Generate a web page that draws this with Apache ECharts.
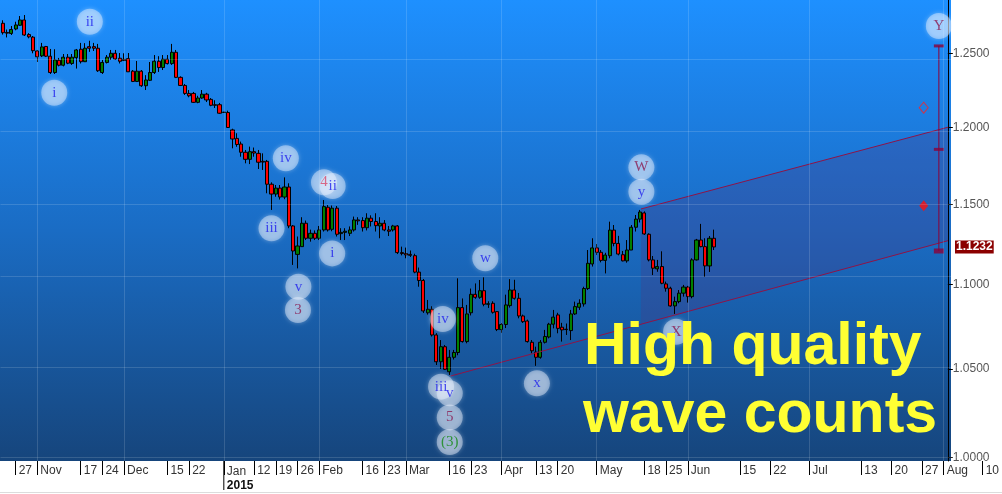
<!DOCTYPE html>
<html><head><meta charset="utf-8">
<script src="https://cdn.jsdelivr.net/npm/echarts@6/dist/echarts.min.js"></script>
<style>html,body{margin:0;padding:0;background:#fff;overflow:hidden}#c{width:1002px;height:494px}</style>
</head><body><div id="c"></div>
<script>
// ---------------- data (EUR/USD daily) ----------------
const opens = [1.2709,1.2645,1.2638,1.2669,1.2695,1.2732,1.2630,1.2612,1.2516,1.2482,
1.2547,1.2480,1.2368,1.2452,1.2418,1.2473,1.2430,1.2470,1.2528,1.2442,
1.2546,1.2546,1.2535,1.2368,1.2437,1.2473,1.2500,1.2466,1.2450,1.2463,
1.2377,1.2307,1.2377,1.2278,1.2315,1.2368,1.2445,1.2402,1.2459,1.2429,
1.2507,1.2335,1.2280,1.2226,1.2226,1.2166,1.2195,1.2221,1.2186,1.2150,
1.2150,1.2098,1.2098,1.1982,1.1926,1.1889,1.1835,1.1789,1.1839,1.1828,
1.1776,1.1776,1.1628,1.1565,1.1603,1.1546,1.1610,1.1363,1.1186,1.1234,
1.1380,1.1286,1.1317,1.1286,1.1338,1.1481,1.1342,1.1475,1.1315,1.1323,
1.1317,1.1338,1.1401,1.1397,1.1352,1.1412,1.1391,1.1363,1.1380,1.1338,
1.1338,1.1363,1.1197,1.1191,1.1186,1.1178,1.1077,1.1026,1.0831,1.0852,
1.0699,1.0542,1.0630,1.0484,1.0568,1.0596,1.0862,1.0660,1.0831,1.0942,
1.0924,1.0964,1.0882,1.0888,1.0838,1.0731,1.0761,1.0874,1.0968,1.0918,
1.0812,1.0782,1.0656,1.0598,1.0568,1.0656,1.0687,1.0763,1.0818,1.0745,
1.0733,1.0725,1.0824,1.0864,1.0884,1.0977,1.1127,1.1226,1.1199,1.1149,
1.1178,1.1337,1.1254,1.1184,1.1146,1.1213,1.1355,1.1406,1.1445,1.1311,
1.1152,1.1097,1.1111,1.1005,1.0979,1.0872,1.0898,1.0949,1.0986,1.0928,
1.1152,1.1275,1.1234,1.1115,1.1286];
const highs = [1.2730,1.2665,1.2690,1.2720,1.2760,1.2767,1.2640,1.2620,1.2523,1.2572,
1.2551,1.2530,1.2528,1.2468,1.2495,1.2495,1.2495,1.2530,1.2572,1.2570,
1.2587,1.2572,1.2565,1.2454,1.2488,1.2523,1.2523,1.2502,1.2500,1.2502,
1.2385,1.2447,1.2385,1.2350,1.2440,1.2488,1.2480,1.2488,1.2488,1.2565,
1.2523,1.2342,1.2290,1.2249,1.2236,1.2210,1.2249,1.2230,1.2195,1.2180,
1.2162,1.2102,1.2110,1.1990,1.1960,1.1905,1.1850,1.1872,1.1866,1.1850,
1.1828,1.1785,1.1640,1.1623,1.1623,1.1672,1.1634,1.1369,1.1297,1.1418,
1.1397,1.1340,1.1335,1.1363,1.1527,1.1495,1.1492,1.1489,1.1349,1.1349,
1.1360,1.1422,1.1418,1.1418,1.1443,1.1430,1.1443,1.1418,1.1400,1.1363,
1.1370,1.1369,1.1234,1.1228,1.1210,1.1190,1.1105,1.1035,1.0908,1.0870,
1.0710,1.0669,1.0640,1.0611,1.0611,1.1039,1.0917,1.0878,1.0977,1.1008,
1.1029,1.1045,1.0900,1.0900,1.0840,1.0770,1.0940,1.1034,1.1030,1.0950,
1.0820,1.0790,1.0669,1.0630,1.0669,1.0729,1.0771,1.0848,1.0831,1.0771,
1.0767,1.0848,1.0898,1.0912,1.0988,1.1213,1.1286,1.1250,1.1213,1.1196,
1.1390,1.1369,1.1301,1.1207,1.1275,1.1369,1.1432,1.1464,1.1455,1.1317,
1.1176,1.1152,1.1205,1.1019,1.0988,1.0928,1.0968,1.0999,1.0993,1.1162,
1.1282,1.1376,1.1286,1.1300,1.1340];
const lows = [1.2630,1.2610,1.2627,1.2660,1.2690,1.2620,1.2604,1.2500,1.2440,1.2474,
1.2474,1.2358,1.2358,1.2410,1.2410,1.2425,1.2420,1.2395,1.2430,1.2440,
1.2510,1.2516,1.2372,1.2358,1.2430,1.2454,1.2454,1.2430,1.2447,1.2372,
1.2303,1.2303,1.2270,1.2249,1.2310,1.2358,1.2372,1.2385,1.2423,1.2420,
1.2330,1.2276,1.2216,1.2200,1.2162,1.2160,1.2190,1.2168,1.2140,1.2128,
1.2089,1.2095,1.1995,1.1861,1.1871,1.1806,1.1763,1.1758,1.1806,1.1726,
1.1720,1.1570,1.1464,1.1548,1.1530,1.1532,1.1349,1.1121,1.1100,1.1234,
1.1275,1.1265,1.1275,1.1275,1.1328,1.1328,1.1330,1.1297,1.1275,1.1275,
1.1300,1.1328,1.1370,1.1328,1.1335,1.1360,1.1328,1.1286,1.1330,1.1300,
1.1328,1.1188,1.1180,1.1162,1.1170,1.1070,1.0988,1.0830,1.0820,1.0690,
1.0523,1.0500,1.0494,1.0465,1.0555,1.0580,1.0654,1.0650,1.0815,1.0915,
1.0915,1.0870,1.0860,1.0826,1.0722,1.0712,1.0740,1.0862,1.0910,1.0798,
1.0770,1.0654,1.0591,1.0518,1.0560,1.0649,1.0679,1.0738,1.0709,1.0660,
1.0699,1.0669,1.0818,1.0848,1.0868,1.0968,1.1111,1.1182,1.1137,1.1069,
1.1162,1.1236,1.1180,1.1143,1.1135,1.1213,1.1328,1.1385,1.1307,1.1143,
1.1059,1.1079,1.1003,1.0958,1.0868,1.0824,1.0888,1.0928,1.0892,1.0918,
1.1148,1.1230,1.1048,1.1078,1.1213];
const closes = [1.2643,1.2640,1.2665,1.2697,1.2732,1.2627,1.2614,1.2518,1.2476,1.2544,
1.2480,1.2368,1.2454,1.2418,1.2473,1.2432,1.2473,1.2523,1.2442,1.2535,
1.2535,1.2535,1.2380,1.2437,1.2473,1.2500,1.2461,1.2445,1.2458,1.2373,
1.2307,1.2377,1.2278,1.2317,1.2368,1.2445,1.2402,1.2459,1.2429,1.2507,
1.2335,1.2280,1.2226,1.2210,1.2166,1.2195,1.2221,1.2182,1.2146,1.2146,
1.2093,1.2100,1.1998,1.1922,1.1886,1.1835,1.1789,1.1839,1.1830,1.1770,
1.1771,1.1628,1.1565,1.1603,1.1546,1.1610,1.1363,1.1207,1.1238,1.1380,
1.1286,1.1317,1.1286,1.1338,1.1485,1.1338,1.1475,1.1311,1.1323,1.1330,
1.1338,1.1401,1.1395,1.1352,1.1412,1.1391,1.1365,1.1380,1.1338,1.1330,
1.1363,1.1197,1.1191,1.1183,1.1180,1.1077,1.1026,1.0842,1.0852,1.0699,
1.0542,1.0630,1.0498,1.0568,1.0596,1.0862,1.0660,1.0824,1.0942,1.0924,
1.0964,1.0882,1.0885,1.0834,1.0731,1.0761,1.0878,1.0968,1.0918,1.0812,
1.0778,1.0660,1.0606,1.0568,1.0656,1.0690,1.0763,1.0805,1.0738,1.0729,
1.0731,1.0824,1.0868,1.0888,1.0977,1.1131,1.1226,1.1199,1.1149,1.1182,
1.1337,1.1254,1.1188,1.1146,1.1213,1.1355,1.1406,1.1451,1.1313,1.1152,
1.1101,1.1111,1.1009,1.0979,1.0872,1.0898,1.0949,1.0986,1.0928,1.1152,
1.1275,1.1234,1.1115,1.1286,1.1232];
const lastPrice = 1.1232;

// x-axis tick labels
const tickDates = ['2014-10-27','2014-11-03','2014-11-17','2014-11-24','2014-12-01','2014-12-15','2014-12-22','2015-01-01','2015-01-12','2015-01-19','2015-01-26','2015-02-02','2015-02-16','2015-02-23','2015-03-02','2015-03-16','2015-03-23','2015-04-01','2015-04-13','2015-04-20','2015-05-01','2015-05-18','2015-05-25','2015-06-01','2015-06-15','2015-06-22','2015-07-01','2015-07-13','2015-07-20','2015-07-27','2015-08-01','2015-08-10'];
const tickTexts = ['27','Nov','17','24','Dec','15','22','Jan','12','19','26','Feb','16','23','Mar','16','23','Apr','13','20','May','18','25','Jun','15','22','Jul','13','20','27','Aug','10'];
const monthDates = ['2014-11-03','2014-12-01','2015-01-01','2015-02-02','2015-03-02','2015-04-01','2015-05-01','2015-06-01','2015-07-01','2015-08-01'];
const yearDate = '2015-01-01', yearText = '2015';
// y-axis tick labels
const priceTicks = [1.0000,1.0500,1.1000,1.1500,1.2000,1.2500];

// Elliott wave labels (x in bar index, price)
const waveText  = ['ii','i','iv','iii','4','ii','i','v','3','iv','iii','v','5','(3)','w','x','W','y','X','Y'];
const waveX     = [20.1,11.9,65.3,62.0,74.1,76.1,76.0,68.2,68.1,101.5,101.1,103.1,103.1,103.1,111.3,123.2,147.3,147.3,155.3,215.9];
const wavePrice = [1.2720,1.2231,1.1796,1.1348,1.1640,1.1617,1.1192,1.0988,1.0848,1.0794,1.0398,1.0360,1.0223,1.0085,1.1162,1.0417,1.1737,1.1580,1.0718,1.2690];
const waveDegree= ['b','b','b','b','r','b','b','b','m','b','b','b','m','g','b','b','m','b','m','m'];

// channel lines
const upperX = [147.2, 218.0], upperPrice = [1.1470, 1.2000];
const lowerX = [103.3, 218.0], lowerPrice = [1.0459, 1.1271];
const shadeX = [147.2, 218.0, 218.0, 147.2], shadePrice = [1.1470, 1.2000, 1.1271, 1.0763];
// target projection
const targetX = 215.9, targetPrices = [1.2551, 1.1854, 1.1207];
const diamondX = 212.4, hollowDiamond = 1.2130, solidDiamond = 1.1491;

// ---------------- categories: trading days, then calendar days ----------------
function buildCategories() {
  const out = [];
  const d = new Date(Date.UTC(2014, 9, 22));
  const lastBar = Date.UTC(2015, 5, 9), end = Date.UTC(2015, 7, 13);
  while (d.getTime() <= end) {
    const wd = d.getUTCDay();
    if (d.getTime() > lastBar || (wd !== 0 && wd !== 6)) out.push(d.toISOString().slice(0, 10));
    d.setUTCDate(d.getUTCDate() + 1);
  }
  return out;
}
const cats = buildCategories();
const tickMap = {}; tickDates.forEach((d, k) => tickMap[d] = tickTexts[k]);
const L = Math.log;

const candleData = opens.map((o, i) => {
  const c = closes[i];
  return [L(o), L(c), L(Math.min(lows[i], o, c)), L(Math.max(highs[i], o, c))];
});

const FONT = '"Liberation Sans", Arial, sans-serif';
const PLOT_RIGHT = 951, PLOT_BOTTOM = 461, W = 1002, H = 494;
const GRID_RIGHT = 1;
const Y_MIN = -0.00204, Y_MAX = 0.25258;
const degreeColor = {b: '#2020ee', m: '#8b1a50', r: '#d84a6a', g: '#138a13'};
const gridLine = 'rgba(255,255,255,0.14)';

const chart = echarts.init(document.getElementById('c'), null, {renderer: 'canvas', width: W, height: H});

const option = {
  animation: false,
  backgroundColor: '#fff',
  grid: {left: 0.5, right: GRID_RIGHT, top: 0, bottom: H - PLOT_BOTTOM},
  xAxis: [{
    type: 'category', data: cats, boundaryGap: true,
    axisLine: {show: false, onZero: false},
    axisTick: {show: true, alignWithLabel: true, length: 14, interval: (i, v) => tickMap[v] !== undefined, lineStyle: {color: '#000'}},
    axisLabel: {
      interval: (i, v) => tickMap[v] !== undefined,
      formatter: v => v === yearDate ? '{m|' + tickMap[v] + '}\n{y|' + yearText + '}' : tickMap[v],
      align: 'left', padding: [0, 0, 0, 3], margin: 4, color: '#333', fontSize: 12, fontFamily: FONT,
      rich: {m: {fontSize: 12, fontFamily: FONT, color: '#333', lineHeight: 14},
             y: {fontSize: 12, fontFamily: FONT, color: '#111', fontWeight: 'bold', lineHeight: 14}}
    },
    splitLine: {show: false}
  }, {
    type: 'value', min: -0.5, max: cats.length - 0.5, show: false, axisLine: {onZero: false}
  }],
  yAxis: {
    type: 'value', position: 'right', offset: PLOT_RIGHT - (W - GRID_RIGHT),
    min: Y_MIN, max: Y_MAX,
    axisLine: {show: true, onZero: false, lineStyle: {color: '#000'}},
    axisTick: {show: true, length: 5, customValues: priceTicks.map(L), lineStyle: {color: '#000'}},
    axisLabel: {customValues: priceTicks.map(L), formatter: v => Math.exp(v).toFixed(4), color: '#555', fontSize: 12, fontFamily: FONT, margin: 5},
    splitLine: {show: false}
  },
  series: [
    { // grid lines
      type: 'line', xAxisIndex: 1, data: [], z: 1, silent: true,
      markLine: {silent: true, symbol: 'none', label: {show: false},
        lineStyle: {color: gridLine, width: 1, type: 'solid'},
        data: priceTicks.map(p => ({yAxis: L(p)})).concat(monthDates.map(d => ({xAxis: cats.indexOf(d)})))}
    },
    { // channel shading
      type: 'custom', xAxisIndex: 1, z: 1, silent: true, data: [[0, 0]],
      renderItem: (params, api) => ({
        type: 'polygon',
        shape: {points: shadeX.map((x, k) => api.coord([x, L(shadePrice[k])]))},
        style: {fill: 'rgba(75,55,130,0.28)'}
      })
    },
    {
      type: 'candlestick', xAxisIndex: 0, z: 3, barWidth: 3.6, silent: true,
      data: candleData,
      itemStyle: {color: '#008000', color0: '#ff0000', borderColor: '#000', borderColor0: '#000', borderWidth: 1}
    },
    {type: 'line', xAxisIndex: 1, z: 4, symbol: 'none', silent: true, lineStyle: {color: '#8e1448', width: 1},
     data: upperX.map((x, k) => [x, L(upperPrice[k])])},
    {type: 'line', xAxisIndex: 1, z: 4, symbol: 'none', silent: true, lineStyle: {color: '#8e1448', width: 1},
     data: lowerX.map((x, k) => [x, L(lowerPrice[k])])},
    {type: 'line', xAxisIndex: 1, z: 4, symbol: 'none', silent: true, lineStyle: {color: '#8b0038', width: 1},
     data: [[targetX, L(targetPrices[0])], [targetX, L(targetPrices[2])]]},
    {type: 'scatter', xAxisIndex: 1, z: 4, silent: true, symbol: 'rect',
     itemStyle: {color: '#8b0038'},
     data: [{value: [targetX, L(targetPrices[0])], symbolSize: [10, 3]},
            {value: [targetX, L(targetPrices[1])], symbolSize: [10, 3]},
            {value: [targetX, L(targetPrices[2])], symbolSize: [10, 5]}]},
    {type: 'scatter', xAxisIndex: 1, z: 4, silent: true, symbol: 'diamond', symbolSize: [9, 11],
     data: [{value: [diamondX, L(hollowDiamond)], itemStyle: {color: 'rgba(0,0,0,0)', borderColor: '#ff2020', borderWidth: 1}},
            {value: [diamondX, L(solidDiamond)], itemStyle: {color: '#ff1010'}}]},
    { // wave labels
      type: 'scatter', xAxisIndex: 1, z: 6, silent: true, symbol: 'circle', symbolSize: 26,
      itemStyle: {color: 'rgba(235,242,255,0.55)', shadowBlur: 4, shadowColor: 'rgba(255,255,255,0.75)'},
      label: {show: true, position: 'inside', formatter: '{b}', fontFamily: '"Liberation Serif", "Times New Roman", serif', fontSize: 15},
      data: waveText.map((t, k) => ({name: t, value: [waveX[k], L(wavePrice[k])], label: {color: degreeColor[waveDegree[k]]}}))
    }
  ]
};
chart.setOption(option);

// decorations positioned through the chart's own scales
const janX = chart.convertToPixel({xAxisIndex: 1}, cats.indexOf(yearDate));
const lastY = chart.convertToPixel({yAxisIndex: 0}, L(lastPrice));
const textShadow = {shadowColor: 'rgba(0,8,40,0.9)', shadowBlur: 5, shadowOffsetX: 4, shadowOffsetY: 4};
chart.setOption({
  graphic: {elements: [
    {type: 'rect', z: -10, silent: true, shape: {x: 0, y: 0, width: PLOT_RIGHT, height: PLOT_BOTTOM},
     style: {fill: {type: 'linear', x: 0, y: 0, x2: 0, y2: 1, colorStops: [
       {offset: 0, color: '#1e90ff'}, {offset: 0.5, color: '#1a6cc4'}, {offset: 1, color: '#16457c'}]}}},
    {type: 'line', z: 5, silent: true, shape: {x1: janX, y1: PLOT_BOTTOM, x2: janX, y2: 490}, style: {stroke: '#000', lineWidth: 1}},
    {type: 'line', z: 5, silent: true, shape: {x1: 0, y1: 492.5, x2: W, y2: 492.5}, style: {stroke: '#dcdcdc', lineWidth: 1}},
    {type: 'text', z: 50, silent: true, x: 955, y: lastY,
     style: {text: lastPrice.toFixed(4), font: 'bold 12px ' + FONT, fill: '#fff', backgroundColor: '#8b0000', padding: [1, 1, 0, 1], verticalAlign: 'middle'}},
    {type: 'text', z: 100, silent: true, x: 584, y: 348,
     style: Object.assign({text: 'High quality', font: 'bold 59px ' + FONT, fill: '#ffff33', verticalAlign: 'middle'}, textShadow)},
    {type: 'text', z: 100, silent: true, x: 583, y: 416,
     style: Object.assign({text: 'wave counts', font: 'bold 59px ' + FONT, fill: '#ffff33', verticalAlign: 'middle'}, textShadow)}
  ]}
});
</script></body></html>
